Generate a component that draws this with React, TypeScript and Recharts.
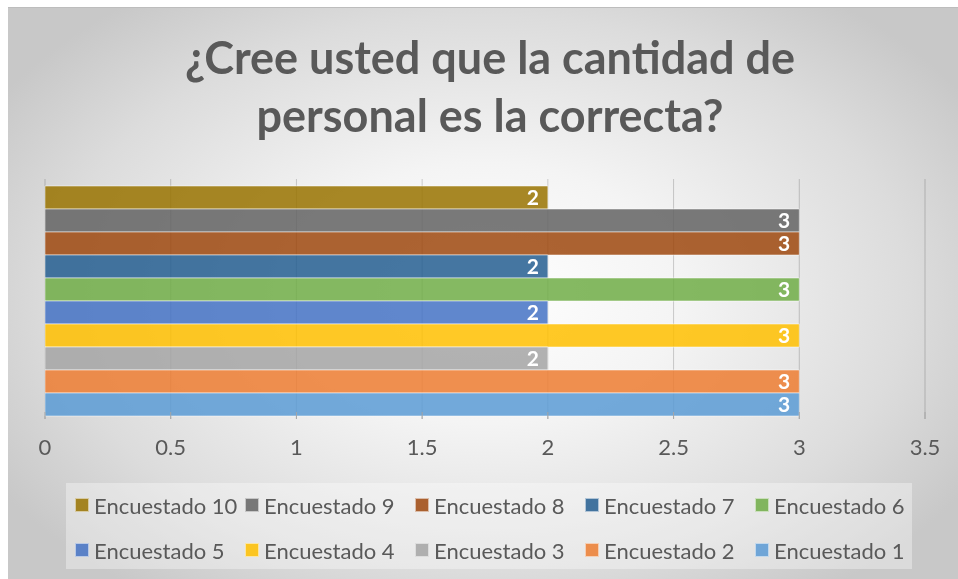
import React from 'react'
import {
  BarChart,
  Bar,
  XAxis,
  YAxis,
  CartesianGrid,
  LabelList,
} from 'recharts'

const categories = ['Personal']
const seriesNames = [
  'Encuestado 1',
  'Encuestado 2',
  'Encuestado 3',
  'Encuestado 4',
  'Encuestado 5',
  'Encuestado 6',
  'Encuestado 7',
  'Encuestado 8',
  'Encuestado 9',
  'Encuestado 10',
]
const seriesValues = [3, 3, 2, 3, 2, 3, 2, 3, 3, 2]
const seriesColors = [
  '#5B9BD5',
  '#ED7D31',
  '#A5A5A5',
  '#FFC000',
  '#4472C4',
  '#70AD47',
  '#255E91',
  '#9E480E',
  '#636363',
  '#997300',
]
const xTicks = [0, 0.5, 1, 1.5, 2, 2.5, 3, 3.5]
const titleLines = ['¿Cree usted que la cantidad de', 'personal es la correcta?']

const FONT = 'Lato, "Noto Sans", sans-serif'
const TEXT = '#595959'

const data = categories.map((name) => {
  const row: { [key: string]: string | number } = { name }
  seriesNames.forEach((_, i) => {
    row[`s${i + 1}`] = seriesValues[i]
  })
  return row
})

// top of the chart is Encuestado 10, so draw bars in reverse order
const drawOrder = seriesNames.map((_, i) => i).reverse()

// legend: two rows, 10 first
const legendRows = [
  [9, 8, 7, 6, 5],
  [4, 3, 2, 1, 0],
]

function XTick(props: any) {
  const { x, y, payload } = props
  return (
    <g>
      <line x1={x} x2={x} y1={405} y2={412} stroke="#a6a6a6" />
      <text
        x={x}
        y={y}
        dy={28}
        textAnchor="middle"
        fill={TEXT}
        fontSize={22}
        fontFamily={FONT}
      >
        {payload.value}
      </text>
    </g>
  )
}

export default function App() {
  return (
    <div
      style={{
        position: 'fixed',
        left: 8,
        top: 7,
        width: 950,
        height: 572,
        borderTop: '1px solid #bdbdbd',
        boxSizing: 'border-box',
        background:
          'radial-gradient(ellipse 60% 65% at 50% 50%, #ffffff 0%, #f4f4f4 35%, #dcdcdc 75%, #c8c8c8 100%)',
        fontFamily: FONT,
        overflow: 'hidden',
      }}
    >
      <div
        style={{
          position: 'absolute',
          left: 0,
          width: 964,
          top: 20,
          textAlign: 'center',
          color: TEXT,
          fontWeight: 700,
          fontSize: 45,
          lineHeight: '58px',
        }}
      >
        {titleLines.map((t) => (
          <div key={t}>{t}</div>
        ))}
      </div>

      <div style={{ position: 'absolute', left: 0, top: -1 }}>
        <BarChart
          width={950}
          height={572}
          data={data}
          layout="vertical"
          margin={{ top: 172, right: 33, left: 37, bottom: 120 }}
          barCategoryGap={7}
          barGap={0}
        >
          <CartesianGrid
            horizontal={false}
            stroke="#000"
            strokeOpacity={0.18}
          />
          <XAxis
            type="number"
            domain={[0, 3.5]}
            ticks={xTicks}
            axisLine={false}
            tickLine={false}
            height={40}
            interval={0}
            tick={<XTick />}
          />
          <YAxis type="category" dataKey="name" hide />
          {drawOrder.map((i) => (
            <Bar
              key={seriesNames[i]}
              dataKey={`s${i + 1}`}
              name={seriesNames[i]}
              fill={seriesColors[i]}
              fillOpacity={0.85}
              stroke="#ffffff"
              strokeOpacity={0.5}
              strokeWidth={1}
              isAnimationActive={false}
            >
              <LabelList
                dataKey={`s${i + 1}`}
                position="insideRight"
                offset={9}
                fill="#ffffff"
                fontSize={21}
                fontWeight={700}
                fontFamily={FONT}
              />
            </Bar>
          ))}
        </BarChart>
      </div>

      <div
        style={{
          position: 'absolute',
          left: 58,
          top: 475,
          width: 846,
          height: 86,
          background: 'rgba(255,255,255,0.35)',
        }}
      >
        {legendRows.map((row, r) => (
          <div
            key={r}
            style={{
              position: 'absolute',
              left: 9,
              top: r === 0 ? 10 : 55,
              height: 24,
              display: 'flex',
            }}
          >
            {row.map((i) => (
              <div
                key={i}
                style={{
                  width: 170,
                  display: 'flex',
                  alignItems: 'center',
                  color: TEXT,
                  fontSize: 22,
                  whiteSpace: 'nowrap',
                }}
              >
                <span
                  style={{
                    width: 12,
                    height: 12,
                    background: seriesColors[i],
                    opacity: 0.85,
                    border: '1px solid rgba(255,255,255,0.6)',
                    marginRight: 5,
                    flexShrink: 0,
                  }}
                />
                {seriesNames[i]}
              </div>
            ))}
          </div>
        ))}
      </div>
    </div>
  )
}
